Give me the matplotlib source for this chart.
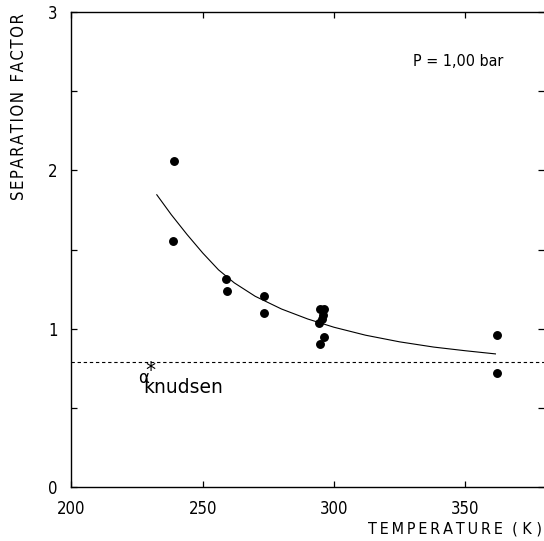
import matplotlib
matplotlib.use("Agg")
import matplotlib.pyplot as plt
from matplotlib.ticker import MultipleLocator

# Measured data points (temperature K, separation factor)
temp_pts = [238.9, 238.5, 259.0, 259.2, 273.3, 273.2,
            294.5, 296.1, 295.8, 295.5, 294.2, 296.1, 294.5,
            362.2, 362.2]
sep_pts = [2.055, 1.553, 1.316, 1.238, 1.207, 1.098,
           1.123, 1.123, 1.087, 1.065, 1.035, 0.948, 0.902,
           0.961, 0.720]

# Fitted curve
curve_T = [232.5, 238, 244, 250, 256, 262, 270, 280, 290, 300, 312, 325, 338, 350, 361.5]
curve_y = [1.845, 1.72, 1.595, 1.478, 1.372, 1.29, 1.205, 1.125, 1.062, 1.01,
           0.96, 0.918, 0.885, 0.862, 0.842]

# Knudsen separation factor (dashed line)
alpha_knudsen = 0.793

x_ticks = [200, 250, 300, 350]
y_ticks = [0, 1, 2, 3]

plt.rcParams['font.family'] = ['DejaVu Sans']
plt.rcParams['font.stretch'] = 'condensed'

fig = plt.figure(figsize=(5.44, 5.41), dpi=100)
ax = fig.add_axes([0.1314, 0.0989, 1.0 - 0.1314, 0.9787 - 0.0989])

ax.set_xlim(200, 380)
ax.set_ylim(0, 3)

ax.axhline(alpha_knudsen, color='black', lw=0.8, ls=(0, (3, 2.5)))
ax.plot(curve_T, curve_y, color='black', lw=0.8)
ax.plot(temp_pts, sep_pts, 'o', color='black', ms=5.4, mec='black')

ax.set_xticks(x_ticks)
ax.set_yticks(y_ticks)
ax.set_xticklabels([str(v) for v in x_ticks])
ax.set_yticklabels([str(v) for v in y_ticks])
ax.yaxis.set_minor_locator(MultipleLocator(0.5))

ax.tick_params(which='both', direction='in', top=True, right=True,
               length=4, width=0.9, labelsize=12)
ax.tick_params(axis='x', which='major', pad=9)
ax.tick_params(axis='y', which='major', pad=10)
ax.tick_params(which='minor', length=4)

for s in ['left', 'top', 'bottom']:
    ax.spines[s].set_linewidth(1.0)
ax.spines['right'].set_visible(False)

ts = '\u2009'
hs = '\u200a'
xlabel = ts.join(list('TEMPERATURE')) + '  ( K )'
ylabel = hs.join(list('SEPARATION')) + '  ' + hs.join(list('FACTOR'))
fig.text(0.997, 0.022, xlabel, ha='right', va='center', fontsize=11.5)
fig.text(0.035, 0.976, ylabel, ha='center', va='top', rotation=90, fontsize=12)

ax.text(0.722, 0.8945, 'P = 1,00 bar', transform=ax.transAxes, fontsize=11.5,
        ha='left', va='center')

ax.text(227.4, 0.69, '\u03b1', fontsize=12, ha='center', va='center',
        fontstretch='normal')
ax.text(230.2, 0.735, '*', fontsize=16, ha='center', va='center')
ax.text(227.3, 0.594, 'knudsen', fontsize=13.5, ha='left', va='baseline',
        fontstretch='normal')

fig.savefig('out.png', dpi=100)
